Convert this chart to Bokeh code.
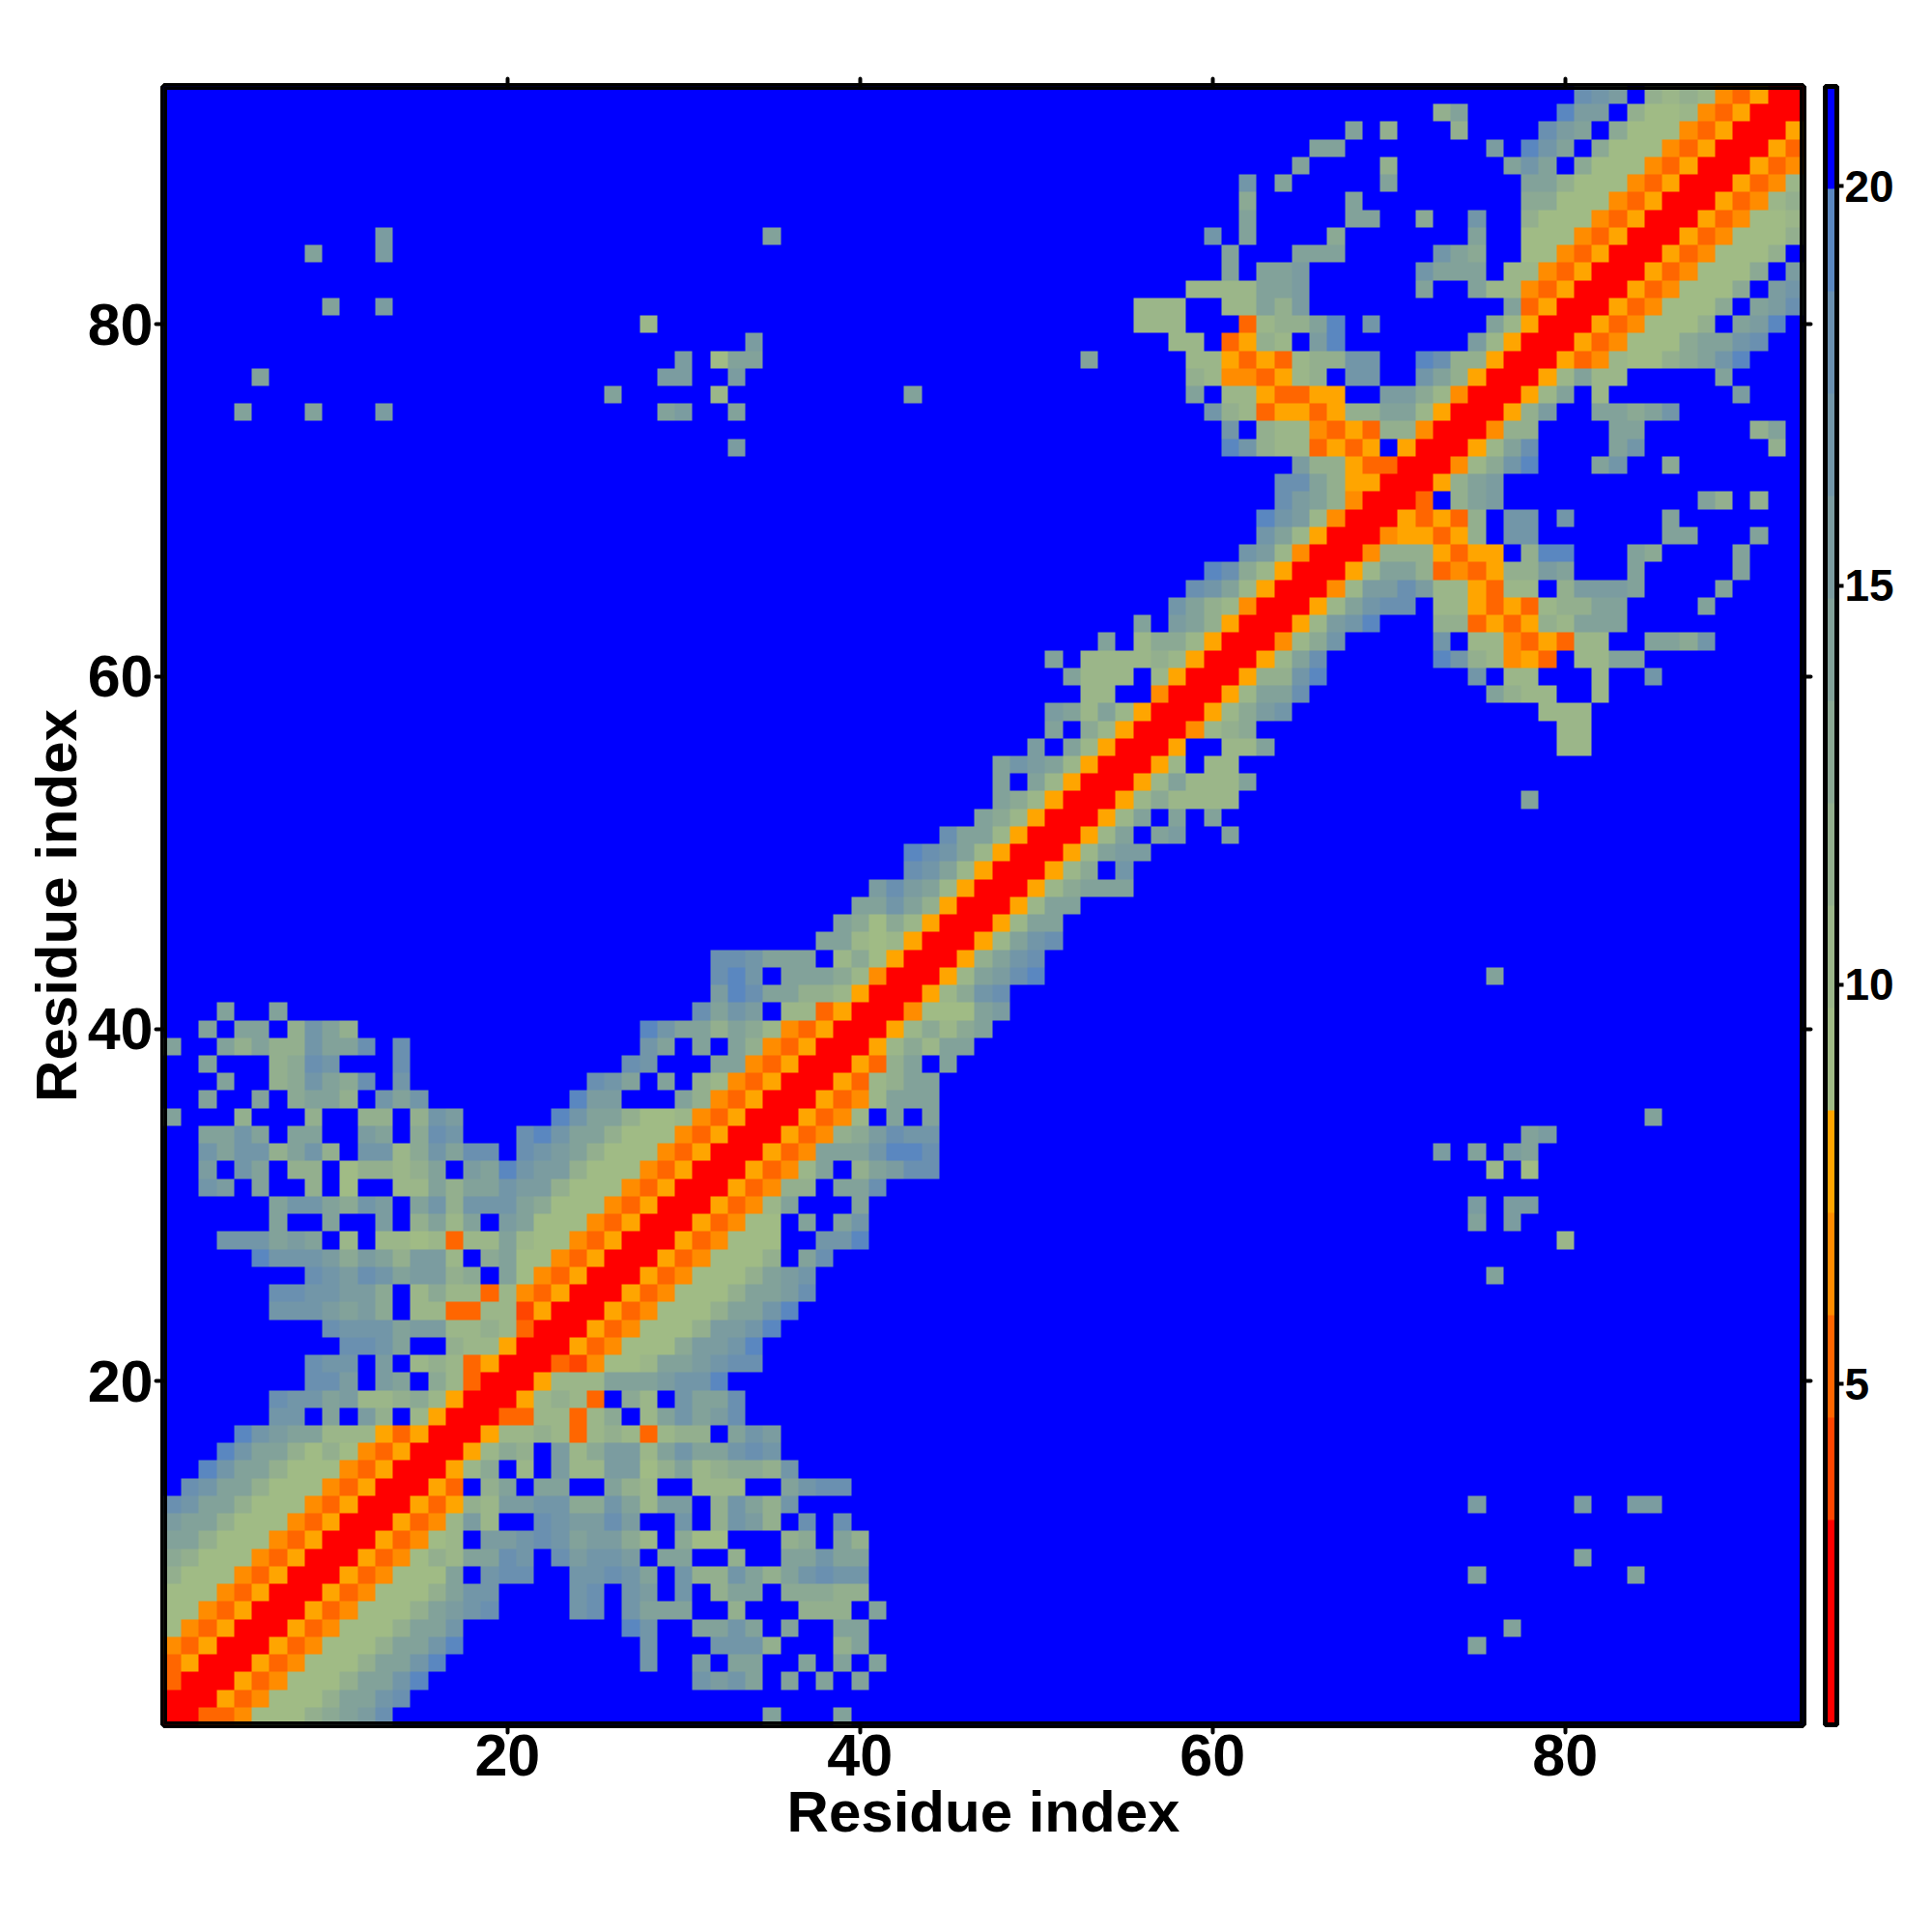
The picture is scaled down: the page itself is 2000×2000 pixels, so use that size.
import numpy as np
from bokeh.embed import file_html
from bokeh.models import BoxAnnotation, ColorBar, FixedTicker, LinearAxis, LinearColorMapper, Range1d
from bokeh.plotting import figure
from bokeh.resources import INLINE

# Distance levels (one hex digit per cell, 16 classes, f = far / background).
n_residues = 93
dist_low = 0.73
dist_high = 21.25
palette = ["#ff0000", "#ff0000", "#ff4500", "#ff6600", "#ff8c00", "#ffa500",
           "#a0bb85", "#9bb689", "#93af8e", "#8ba994", "#82a29a", "#7b9ca0",
           "#7296a8", "#6a90b0", "#5a87c0", "#0000ff"]
x_ticks = [20, 40, 60, 80]
bar_ticks = [5, 10, 15, 20]
x_title = "Residue index"
y_title = "Residue index"

# Each row: residue y -> {first residue x of a run: level codes}; matrix is symmetric.
row_01 = {1: "0033466689abd", 35: "a", 39: "a"}
row_02 = {2: "005346668aacd"}
row_03 = {3: "005346668aace", 31: "cbca", 36: "a", 38: "a", 40: "a"}
row_04 = {4: "005346668aace", 28: "c", 31: "b", 33: "aa", 37: "a", 39: "a", 41: "a"}
row_05 = {5: "005346668aace", 28: "c", 32: "ccc8", 39: "8a", 75: "a"}
row_06 = {6: "005346668aac", 27: "ec", 31: "aaca", 36: "a", 39: "aa", 77: "a"}
row_07 = {7: "005346668abcd", 24: "cd", 27: "caaa", 33: "8", 37: "888", 41: "a"}
row_08 = {8: "005346668acc", 24: "cd", 27: "cb", 30: "c", 32: "8aa", 36: "99988"}
row_09 = {9: "00534666a", 19: "cdd", 24: "ccdca", 30: "c88ca8acdcc", 75: "a", 84: "a"}
row_10 = {10: "00534687aadc", 23: "dbccb", 29: "aa", 33: "8", 36: "aacaa", 81: "a"}
row_11 = {11: "0053467", 19: "bbcdcabb97", 30: "966", 36: "89", 39: "a8"}
row_12 = {12: "005347b7", 22: "dcbbdb", 30: "c", 32: "8cb8", 37: "d", 39: "d"}
row_13 = {13: "0053587bbcc99ca7bb", 32: "8ca8c", 75: "b", 81: "b", 84: "bb"}
row_14 = {14: "0053", 19: "8a", 22: "aa", 26: "a87", 31: "777", 36: "acdd"}
row_15 = {15: "00579", 21: "7", 23: "b77bb68a78998c"}
row_16 = {16: "005798", 23: "b79bb7acaacdc"}
row_17 = {17: "005778737873788", 33: "acb"}
row_18 = {18: "003377379", 28: "7acabd"}
row_19 = {19: "0057873", 27: "97", 30: "caad"}
row_20 = {20: "005777aaabcce"}
row_21 = {21: "00324667aabcdd"}
row_22 = {22: "005346669bbce"}
row_23 = {23: "005346668bbce"}
row_24 = {24: "005346668aace"}
row_25 = {25: "005346668aabd"}
row_26 = {26: "005346668abc", 76: "a"}
row_27 = {27: "005346668", 37: "ad"}
row_28 = {28: "00534666", 38: "cce", 80: "7"}
row_29 = {29: "0053466", 37: "a", 39: "ac", 75: "a", 77: "b"}
row_30 = {30: "005347a", 40: "a", 75: "b", 77: "bb"}
row_31 = {31: "0053488", 39: "aad"}
row_32 = {32: "005347a", 40: "8abdd", 76: "7", 78: "6"}
row_33 = {33: "00534aaaceed", 73: "b", 75: "a", 77: "ba"}
row_34 = {34: "0053489bdcc", 78: "ab"}
row_35 = {35: "005347", 42: "a", 44: "a", 85: "a"}
row_36 = {36: "005347aaa"}
row_37 = {37: "005378aa"}
row_38 = {38: "00538a", 45: "a"}
row_39 = {39: "005797aa"}
row_40 = {40: "0057979a"}
row_41 = {41: "004666ab"}
row_42 = {42: "00579cd"}
row_43 = {43: "0057abde", 76: "a"}
row_44 = {44: "0058acd"}
row_45 = {45: "0057acd"}
row_46 = {46: "0057aa"}
row_47 = {47: "0057aa"}
row_48 = {48: "00579aaa"}
row_49 = {49: "00579", 55: "c"}
row_50 = {50: "0057abb"}
row_51 = {51: "0057a", 57: "ab", 61: "a"}
row_52 = {52: "0057a", 58: "a", 60: "a"}
row_53 = {53: "005797777", 78: "a"}
row_54 = {54: "0057a777a"}
row_55 = {55: "0057", 60: "77"}
row_56 = {56: "005", 61: "77a", 80: "77"}
row_57 = {57: "004789", 80: "77"}
row_58 = {58: "00579bc", 79: "777"}
row_59 = {59: "0057aad", 76: "a877", 82: "7"}
row_60 = {60: "00588ce", 75: "c", 77: "77", 82: "7", 85: "c"}
row_61 = {61: "0057ad", 73: "ec87453", 81: "77aa"}
row_62 = {62: "00479c", 73: "c", 75: "77435377", 85: "aa9c"}
row_63 = {63: "0057bce", 73: "88353587aaa"}
row_64 = {64: "0057acdd", 73: "775353788aa", 88: "a"}
row_65 = {65: "0047bbdb775377", 80: "8bbba", 89: "a"}
row_66 = {66: "0057aa8343588ba", 84: "a", 90: "a"}
row_67 = {67: "0048885355", 78: "8ee", 84: "a9", 90: "a"}
row_68 = {68: "00455358", 77: "cc", 86: "aa", 91: "a"}
row_69 = {69: "0053538", 77: "cc", 80: "c", 86: "a"}
row_70 = {70: "003", 74: "8ab", 88: "a8", 91: "8"}
row_71 = {71: "0058ab"}
row_72 = {72: "00479ce", 82: "ac", 86: "9"}
row_73 = {73: "0057ad", 83: "ac", 92: "8"}
row_74 = {74: "00488", 83: "aa", 91: "8a"}
row_75 = {75: "0058b", 82: "aa9ac"}
row_76 = {76: "0057a", 82: "7", 90: "b"}
row_77 = {77: "0057a77", 89: "a"}
row_78 = {78: "0053476689ace"}
row_79 = {79: "005346669aacd"}
row_80 = {80: "005346668", 90: "abe"}
row_81 = {81: "005346669", 91: "abd"}
row_82 = {82: "005346669", 92: "bc"}
row_83 = {83: "005346669", 93: "b"}
row_84 = {84: "005346668"}
row_85 = {85: "005346668"}
row_86 = {86: "00534667"}
row_87 = {87: "0053478"}
row_88 = {88: "005347"}
row_89 = {89: "00534"}
row_90 = {90: "0053"}
row_91 = {91: "005"}
row_92 = {92: "00"}
row_93 = {93: "0"}

rows = [row_01, row_02, row_03, row_04, row_05, row_06, row_07, row_08, row_09, row_10,
        row_11, row_12, row_13, row_14, row_15, row_16, row_17, row_18, row_19, row_20,
        row_21, row_22, row_23, row_24, row_25, row_26, row_27, row_28, row_29, row_30,
        row_31, row_32, row_33, row_34, row_35, row_36, row_37, row_38, row_39, row_40,
        row_41, row_42, row_43, row_44, row_45, row_46, row_47, row_48, row_49, row_50,
        row_51, row_52, row_53, row_54, row_55, row_56, row_57, row_58, row_59, row_60,
        row_61, row_62, row_63, row_64, row_65, row_66, row_67, row_68, row_69, row_70,
        row_71, row_72, row_73, row_74, row_75, row_76, row_77, row_78, row_79, row_80,
        row_81, row_82, row_83, row_84, row_85, row_86, row_87, row_88, row_89, row_90,
        row_91, row_92, row_93]

codes = np.full((n_residues, n_residues), 15, dtype=int)
for y_index, row in enumerate(rows):
    for start, run in row.items():
        for k, ch in enumerate(run):
            codes[y_index, start - 1 + k] = int(ch, 16)
            codes[start - 1 + k, y_index] = int(ch, 16)

level_width = (dist_high - dist_low) / len(palette)
distance = dist_low + (codes + 0.5) * level_width

FONT = "Liberation Sans"
mapper = LinearColorMapper(palette=palette, low=dist_low, high=dist_high)

p = figure(frame_width=1697, frame_height=1696, output_backend="svg", toolbar_location=None,
           x_range=Range1d(0.5, n_residues + 0.5), y_range=Range1d(0.5, n_residues + 0.5),
           min_border_left=169, min_border_top=89, min_border_bottom=120, min_border_right=10,
           background_fill_color="white", x_axis_label=x_title, y_axis_label=y_title)
p.image(image=[distance], x=0.5, y=0.5, dw=n_residues, dh=n_residues, color_mapper=mapper)
p.grid.visible = False
p.outline_line_color = "black"
p.outline_line_width = 7
p.add_layout(BoxAnnotation(left=0.5, right=n_residues + 0.5, bottom=0.5, top=n_residues + 0.5,
                           fill_color=None, fill_alpha=0, line_color="black", line_width=7, line_alpha=1))


def style_axis(ax, labels):
    ax.ticker = FixedTicker(ticks=x_ticks)
    ax.axis_line_color = None
    ax.major_tick_line_color = "black"
    ax.major_tick_line_width = 4
    ax.major_tick_line_cap = "round"
    ax.major_tick_in = 0
    ax.major_tick_out = 8
    ax.minor_tick_line_color = None
    if labels:
        ax.major_label_text_font = FONT
        ax.major_label_text_font_style = "bold"
        ax.major_label_text_font_size = "61px"
        ax.major_label_text_color = "black"
        ax.axis_label_text_font = FONT
        ax.axis_label_text_font_style = "bold"
        ax.axis_label_text_font_size = "60px"
        ax.axis_label_text_color = "black"
    else:
        ax.major_label_text_font_size = "0px"
        ax.major_label_text_color = None


style_axis(p.xaxis[0], True)
style_axis(p.yaxis[0], True)
p.xaxis[0].major_label_standoff = 2
p.xaxis[0].axis_label_standoff = 1
p.yaxis[0].major_label_standoff = 3
p.yaxis[0].axis_label_standoff = -4

top_axis = LinearAxis()
right_axis = LinearAxis()
style_axis(top_axis, False)
style_axis(right_axis, False)
p.add_layout(top_axis, "above")
p.add_layout(right_axis, "right")

bar = ColorBar(color_mapper=mapper, ticker=FixedTicker(ticks=bar_ticks), width=12, height=1696,
               location=(15, 0), padding=0, margin=42, bar_line_color="black", bar_line_width=5,
               major_tick_line_color="black", major_tick_line_width=4, major_tick_in=0, major_tick_out=7,
               minor_tick_line_color=None, label_standoff=1, border_line_color=None,
               major_label_text_font=FONT, major_label_text_font_style="bold",
               major_label_text_font_size="46px", major_label_text_color="black")
p.add_layout(bar, "right")

open("out.html", "w").write(file_html(p, INLINE))
